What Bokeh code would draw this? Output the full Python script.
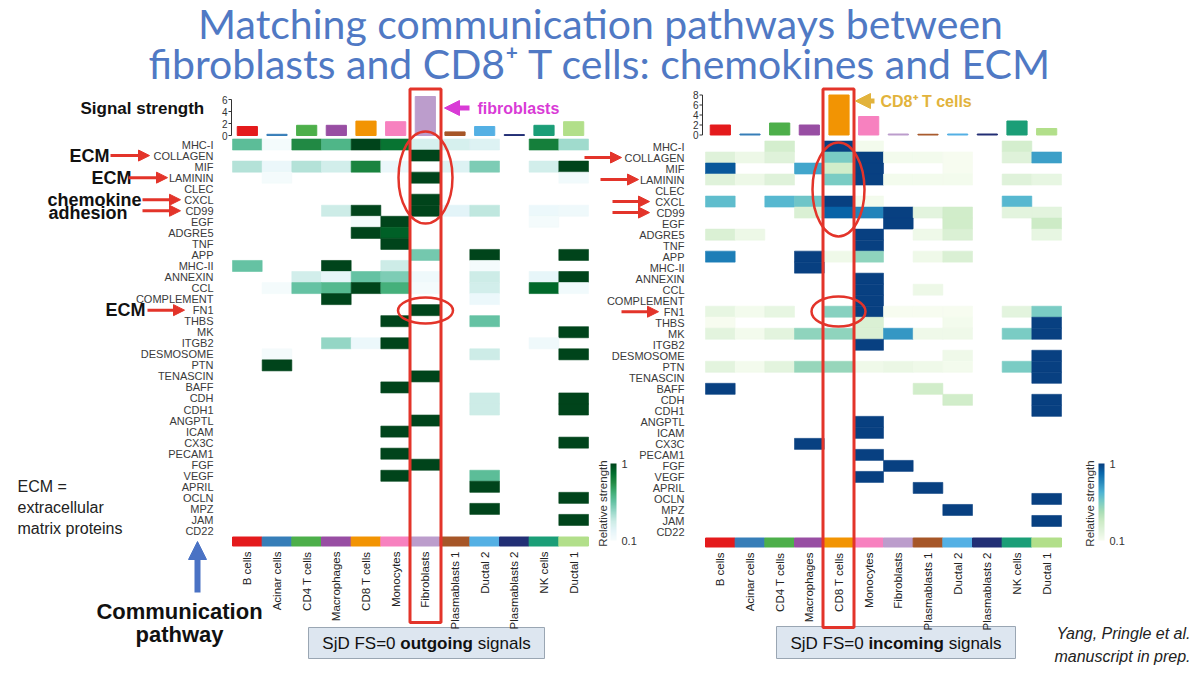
import math
from bokeh.plotting import figure
from bokeh.models import (Range1d, ColumnDataSource, LinearColorMapper, ColorBar,
                          FixedTicker, Arrow, NormalHead)
from bokeh.palettes import BuGn9, GnBu9
from bokeh.embed import file_html
from bokeh.resources import INLINE
from bokeh.core.properties import value

# ---------------- data ----------------
pathways = ["MHC-I", "COLLAGEN", "MIF", "LAMININ", "CLEC", "CXCL", "CD99", "EGF", "ADGRE5",
            "TNF", "APP", "MHC-II", "ANNEXIN", "CCL", "COMPLEMENT", "FN1", "THBS", "MK",
            "ITGB2", "DESMOSOME", "PTN", "TENASCIN", "BAFF", "CDH", "CDH1", "ANGPTL", "ICAM",
            "CX3C", "PECAM1", "FGF", "VEGF", "APRIL", "OCLN", "MPZ", "JAM", "CD22"]
cell_types = ["B cells", "Acinar cells", "CD4 T cells", "Macrophages", "CD8 T cells",
              "Monocytes", "Fibroblasts", "Plasmablasts 1", "Ductal 2", "Plasmablasts 2",
              "NK cells", "Ductal 1"]
cell_colors = ["#E41A1C", "#377EB8", "#4DAF4A", "#984EA3", "#F29403", "#F781BF",
               "#BC9DCC", "#A65628", "#54B0E4", "#222F75", "#1B9E77", "#B2DF8A"]

out_strength = [1.5, 0.2, 1.7, 1.7, 2.4, 2.3, 6.5, 0.6, 1.5, 0.15, 1.7, 2.3]
in_strength = [2.0, 0.2, 2.4, 2.0, 8.0, 3.7, 0.2, 0.15, 0.2, 0.2, 2.8, 1.3]
out_ticks = [0, 2, 4, 6]
in_ticks = [0, 2, 4, 6, 8]
bar_ticks = [0.1, 1]

# relative strength, columns in cell_types order (0 = no signal)
outgoing = [
    [0.58, 0.12, 0.78, 0.62, 1.0, 0.86, 0.28, 0.28, 0.25, 0, 0.82, 0.42],   # MHC-I
    [0, 0, 0, 0, 0, 0, 1.0, 0, 0, 0, 0, 0],                                # COLLAGEN
    [0.38, 0.18, 0.38, 0.3, 0.8, 0.18, 0, 0.25, 0.5, 0, 0.3, 1.0],         # MIF
    [0, 0.12, 0, 0, 0, 0, 1.0, 0, 0, 0, 0, 0.14],                          # LAMININ
    [0, 0, 0, 0, 0, 0, 0, 0, 0, 0, 0, 0],                                  # CLEC
    [0, 0, 0, 0, 0, 0, 1.0, 0, 0, 0, 0, 0],                                # CXCL
    [0, 0, 0, 0.32, 1.0, 0, 1.0, 0.22, 0.35, 0, 0.17, 0.15],              # CD99
    [0, 0, 0, 0, 0.12, 1.0, 0, 0, 0, 0, 0.12, 0],                          # EGF
    [0, 0, 0, 0, 1.0, 0.92, 0, 0, 0, 0, 0, 0],                             # ADGRE5
    [0, 0, 0, 0, 0, 1.0, 0, 0, 0, 0, 0, 0],                                # TNF
    [0, 0, 0, 0, 0, 0, 0.52, 0, 1.0, 0, 0, 1.0],                           # APP
    [0.55, 0, 0, 1.0, 0, 0.32, 0, 0, 0.12, 0, 0, 0],                       # MHC-II
    [0, 0, 0.3, 0.2, 0.55, 0.5, 0.15, 0, 0.32, 0, 0.2, 1.0],               # ANNEXIN
    [0, 0.12, 0.55, 0.6, 1.0, 0.65, 0.12, 0, 0.3, 0, 0.9, 0.14],           # CCL
    [0, 0, 0, 1.0, 0, 0, 0, 0, 0.17, 0, 0, 0],                             # COMPLEMENT
    [0, 0, 0, 0, 0, 0, 1.0, 0, 0, 0, 0, 0],                                # FN1
    [0, 0, 0, 0, 0, 1.0, 0, 0, 0.55, 0, 0, 0],                             # THBS
    [0, 0, 0, 0, 0, 0, 0, 0, 0, 0, 0, 1.0],                                # MK
    [0, 0, 0, 0.45, 0.17, 1.0, 0, 0, 0, 0, 0.15, 0],                       # ITGB2
    [0, 0.12, 0, 0, 0, 0, 0, 0, 0.32, 0, 0, 1.0],                          # DESMOSOME
    [0, 1.0, 0, 0, 0, 0, 0, 0, 0, 0, 0, 0],                                # PTN
    [0, 0, 0, 0, 0, 0, 1.0, 0, 0, 0, 0, 0],                                # TENASCIN
    [0, 0, 0, 0, 0, 1.0, 0, 0, 0, 0, 0, 0],                                # BAFF
    [0, 0, 0, 0, 0, 0, 0, 0, 0.32, 0, 0, 1.0],                             # CDH
    [0, 0, 0, 0, 0, 0, 0, 0, 0.32, 0, 0, 1.0],                             # CDH1
    [0, 0, 0, 0, 0, 0, 1.0, 0, 0, 0, 0, 0],                                # ANGPTL
    [0, 0, 0, 0, 0, 1.0, 0, 0, 0, 0, 0, 0],                                # ICAM
    [0, 0, 0, 0, 0, 0, 0, 0, 0, 0, 0, 1.0],                                # CX3C
    [0, 0, 0, 0, 0, 1.0, 0, 0, 0, 0, 0, 0],                                # PECAM1
    [0, 0, 0, 0, 0, 0, 1.0, 0, 0, 0, 0, 0],                                # FGF
    [0, 0, 0, 0, 0, 1.0, 0, 0, 0.58, 0, 0, 0],                             # VEGF
    [0, 0, 0, 0, 0, 0, 0, 0, 1.0, 0, 0, 0],                                # APRIL
    [0, 0, 0, 0, 0, 0, 0, 0, 0, 0, 0, 1.0],                                # OCLN
    [0, 0, 0, 0, 0, 0, 0, 0, 1.0, 0, 0, 0],                                # MPZ
    [0, 0, 0, 0, 0, 0, 0, 0, 0, 0, 0, 1.0],                                # JAM
    [0, 0, 0, 0, 0, 0, 0, 0, 0, 0, 0, 0],                                  # CD22
]

incoming = [
    [0, 0, 0.28, 0, 1.0, 0.12, 0, 0, 0, 0, 0.28, 0],                       # MHC-I
    [0.22, 0.15, 0.22, 0, 0.55, 1.0, 0.12, 0.12, 0.1, 0, 0.22, 0.72],      # COLLAGEN
    [0.93, 0, 0, 0.7, 0.3, 1.0, 0, 0, 0.1, 0, 0, 0],                       # MIF
    [0.22, 0.15, 0.22, 0, 0.55, 1.0, 0.12, 0.12, 0.12, 0, 0.22, 0.18],     # LAMININ
    [0, 0, 0, 0, 0, 0, 0, 0, 0, 0, 0, 0],                                  # CLEC
    [0.62, 0, 0.64, 0.58, 1.0, 0.12, 0, 0, 0, 0, 0.64, 0],                 # CXCL
    [0, 0, 0, 0.25, 0.9, 0.8, 1.0, 0.2, 0.3, 0, 0.2, 0.2],                 # CD99
    [0, 0, 0, 0, 0, 0, 1.0, 0, 0.3, 0, 0, 0.32],                           # EGF
    [0.25, 0.15, 0, 0, 0, 1.0, 0, 0.14, 0.25, 0, 0, 0.18],                 # ADGRE5
    [0, 0, 0, 0, 0, 1.0, 0, 0, 0, 0, 0, 0],                                # TNF
    [0.82, 0, 0, 1.0, 0.14, 0.5, 0, 0.14, 0.25, 0, 0, 0],                  # APP
    [0, 0, 0, 1.0, 0, 0, 0, 0, 0, 0, 0, 0],                                # MHC-II
    [0, 0, 0, 0, 0, 1.0, 0, 0, 0, 0, 0, 0],                                # ANNEXIN
    [0, 0, 0, 0, 0, 1.0, 0, 0.15, 0, 0, 0, 0],                             # CCL
    [0, 0, 0, 0, 0, 1.0, 0, 0, 0, 0, 0, 0],                                # COMPLEMENT
    [0.18, 0.12, 0.18, 0, 0.52, 1.0, 0.1, 0.1, 0.1, 0, 0.2, 0.55],         # FN1
    [0.1, 0, 0, 0, 0, 0.25, 0, 0, 0.12, 0, 0, 1.0],                        # THBS
    [0.2, 0.12, 0.2, 0.5, 0.5, 0.25, 0.74, 0.14, 0.14, 0, 0.55, 1.0],      # MK
    [0, 0, 0, 0, 0, 1.0, 0, 0, 0, 0, 0, 0],                                # ITGB2
    [0, 0, 0, 0, 0, 0, 0, 0, 0.14, 0, 0, 1.0],                             # DESMOSOME
    [0.2, 0.12, 0.2, 0.48, 0.48, 0.14, 0.16, 0.14, 0.12, 0, 0.55, 1.0],    # PTN
    [0, 0, 0, 0, 0, 0, 0, 0, 0, 0, 0, 1.0],                                # TENASCIN
    [1.0, 0, 0, 0, 0, 0, 0, 0.3, 0, 0, 0, 0],                              # BAFF
    [0, 0, 0, 0, 0, 0, 0, 0, 0.3, 0, 0, 1.0],                              # CDH
    [0, 0, 0, 0, 0, 0, 0, 0, 0, 0, 0, 1.0],                                # CDH1
    [0, 0, 0, 0, 0, 1.0, 0, 0, 0, 0, 0, 0],                                # ANGPTL
    [0, 0, 0, 0, 0, 1.0, 0, 0, 0, 0, 0, 0],                                # ICAM
    [0, 0, 0, 1.0, 0, 0, 0, 0, 0, 0, 0, 0],                                # CX3C
    [0, 0, 0, 0, 0, 1.0, 0, 0, 0, 0, 0, 0],                                # PECAM1
    [0, 0, 0, 0, 0, 0, 1.0, 0, 0, 0, 0, 0],                                # FGF
    [0, 0, 0, 0, 0, 1.0, 0, 0, 0, 0, 0, 0],                                # VEGF
    [0, 0, 0, 0, 0, 0, 0, 1.0, 0, 0, 0, 0],                                # APRIL
    [0, 0, 0, 0, 0, 0, 0, 0, 0, 0, 0, 1.0],                                # OCLN
    [0, 0, 0, 0, 0, 0, 0, 0, 1.0, 0, 0, 0],                                # MPZ
    [0, 0, 0, 0, 0, 0, 0, 0, 0, 0, 0, 1.0],                                # JAM
    [0, 0, 0, 0, 0, 0, 0, 0, 0, 0, 0, 0],                                  # CD22
]

# ---------------- helpers ----------------
def interp(pal, n=256):
    cols = [tuple(int(c[i:i + 2], 16) for i in (1, 3, 5)) for c in pal]
    out = []
    for k in range(n):
        t = k / (n - 1) * (len(cols) - 1)
        i = min(int(t), len(cols) - 2)
        f = t - i
        rgb = [round(cols[i][j] + (cols[i + 1][j] - cols[i][j]) * f) for j in range(3)]
        out.append("#%02x%02x%02x" % tuple(rgb))
    return out

def rng(v0, p0, v1, p1, lo, hi):
    k = (v1 - v0) / (p1 - p0)
    return Range1d(v0 + (lo - p0) * k, v0 + (hi - p0) * k)

W, H = 1196, 670
X0, X1, Y0, Y1 = 0, W, 0, H
FONT = "Liberation Sans"
RED = "#e3342a"

p = figure(width=W, height=H, x_range=Range1d(X0, X1), y_range=Range1d(Y1, Y0),
           output_backend="svg", toolbar_location=None, min_border=0,
           x_axis_type=None, y_axis_type=None)
p.grid.visible = False
p.outline_line_color = None
p.background_fill_color = "white"
p.border_fill_color = "white"

panels = {
    "L": dict(x0=232, x1=588, y0=138.5, y1=536, b0=135, bmax=6, bpx=99, data=outgoing,
              strength=out_strength, ticks=out_ticks, pal=interp(BuGn9[::-1]),
              lab_x=213, axis_x=231, cb_x=610, cbt_x=602),
    "R": dict(x0=705, x1=1061, y0=140.5, y1=537, b0=134.5, bmax=8, bpx=94.5, data=incoming,
              strength=in_strength, ticks=in_ticks, pal=interp(GnBu9[::-1]),
              lab_x=684, axis_x=702, cb_x=1098, cbt_x=1089),
}

# bottom boxes first so that the column labels stay on top
p.quad(left=[308, 776], right=[544, 1015], top=[627, 626], bottom=[658, 658],
       fill_color="#dde6f0", line_color="#9aa6b3", line_width=1)

ncol, nrow = len(cell_types), len(pathways)
for key, P in panels.items():
    p.extra_x_ranges[key + "x"] = rng(0, P["x0"], ncol, P["x1"], X0, X1)
    p.extra_y_ranges[key + "y"] = rng(0, P["y0"], nrow, P["y1"], Y1, Y0)
    p.extra_y_ranges[key + "b"] = rng(0, P["b0"], P["bmax"], P["bpx"], Y1, Y0)
    mapper = LinearColorMapper(palette=P["pal"], low=0.1, high=1)

    xs, ys, vs = [], [], []
    for r, row in enumerate(P["data"]):
        for c, v in enumerate(row):
            if v > 0:
                xs.append(c + 0.5); ys.append(r + 0.5); vs.append(v)
    src = ColumnDataSource(dict(x=xs, y=ys, v=vs))
    p.rect(x="x", y="y", width=1, height=1, source=src, x_range_name=key + "x",
           y_range_name=key + "y", fill_color={"field": "v", "transform": mapper},
           line_color={"field": "v", "transform": mapper}, line_width=0.6)

    # row labels
    p.text(x=[P["lab_x"]] * nrow, y=[r + 0.5 for r in range(nrow)], text=pathways,
           y_range_name=key + "y", text_font=value(FONT), text_font_size="11px",
           text_color="#3a3a3a", text_align="right", text_baseline="middle")

    # signal strength bars
    bsrc = ColumnDataSource(dict(x=[c + 0.5 for c in range(ncol)], top=P["strength"],
                                 color=cell_colors))
    p.vbar(x="x", top="top", bottom=0, width=0.68, color="color", source=bsrc,
           x_range_name=key + "x", y_range_name=key + "b")
    t = P["ticks"]
    p.segment(x0=[P["axis_x"]], x1=[P["axis_x"]], y0=[t[0]], y1=[t[-1]],
              y_range_name=key + "b", line_color="#333", line_width=1)
    p.segment(x0=[P["axis_x"] - 3] * len(t), x1=[P["axis_x"]] * len(t), y0=t, y1=t,
              y_range_name=key + "b", line_color="#333", line_width=1)
    p.text(x=[P["axis_x"] - 4] * len(t), y=t, text=[str(v) for v in t],
           y_range_name=key + "b", text_font=value(FONT), text_font_size="10px",
           text_color="#333", text_align="right", text_baseline="middle")

    # colour strip under columns
    p.vbar(x=[c + 0.5 for c in range(ncol)], top=P["y1"] + 0.5, bottom=P["y1"] + 9.5,
           width=1, color=cell_colors, x_range_name=key + "x")
    # column labels
    p.text(x=[c + 0.5 for c in range(ncol)], y=[P["y1"] + 15] * ncol, text=cell_types,
           x_range_name=key + "x", angle=math.pi / 2, text_font=value(FONT),
           text_font_size="11.5px", text_color="#222", text_align="right",
           text_baseline="middle")

    # colour bar
    cb = ColorBar(color_mapper=mapper, ticker=FixedTicker(ticks=bar_ticks),
                  location=(P["cb_x"] - X0, Y1 - 540), width=6, height=77, padding=0,
                  major_label_text_font_size="11px", major_label_text_color="#333",
                  major_label_text_font=FONT, major_tick_line_color=None,
                  bar_line_color=None, border_line_color=None, background_fill_alpha=0,
                  label_standoff=5)
    p.add_layout(cb, "center")
    p.text(x=[P["cbt_x"]], y=[503], text=["Relative strength"], angle=math.pi / 2,
           text_font=value(FONT), text_font_size="11.5px", text_color="#333",
           text_align="center", text_baseline="middle")

def row_px(name, key):
    P = panels[key]
    h = (P["y1"] - P["y0"]) / nrow
    return P["y0"] + (pathways.index(name) + 0.5) * h

def txt(x, y, s, size, color="#111", align="left", style="normal", font=FONT, baseline="middle"):
    p.text(x=[x], y=[y], text=[s], text_font=value(font), text_font_size=f"{size}px",
           text_color=color, text_align=align, text_baseline=baseline,
           text_font_style=style)

def arrow(xs, ys, xe, ye, color, lw, size):
    p.add_layout(Arrow(end=NormalHead(size=size, fill_color=color, line_color=color),
                       x_start=xs, y_start=ys, x_end=xe, y_end=ye,
                       line_color=color, line_width=lw))

# ---------------- title ----------------
TBLUE = "#5079c4"
txt(600, 23, "Matching communication pathways between", 41, TBLUE, "center", font="Lato")
txt(600, 63, "fibroblasts and CD8\u207a T cells: chemokines and ECM", 41, TBLUE, "center",
    font="Lato")

# ---------------- left annotations ----------------
txt(80, 108, "Signal strength", 17, "#111", style="bold")
txt(69, row_px("COLLAGEN", "L"), "ECM", 18, "#111", style="bold")
arrow(110, row_px("COLLAGEN", "L"), 149, row_px("COLLAGEN", "L"), RED, 3, 11)
txt(91, row_px("LAMININ", "L"), "ECM", 18, "#111", style="bold")
arrow(128, row_px("LAMININ", "L"), 167, row_px("LAMININ", "L"), RED, 3, 11)
txt(47, row_px("CXCL", "L"), "chemokine", 18, "#111", style="bold")
arrow(142, row_px("CXCL", "L"), 180, row_px("CXCL", "L"), RED, 3, 11)
txt(48, row_px("CD99", "L") + 2, "adhesion", 18, "#111", style="bold")
arrow(142, row_px("CD99", "L"), 180, row_px("CD99", "L"), RED, 3, 11)
txt(105, row_px("FN1", "L"), "ECM", 18, "#111", style="bold")
arrow(147, row_px("FN1", "L"), 184, row_px("FN1", "L"), RED, 3, 11)

txt(17, 486, "ECM =", 16, "#222")
txt(17, 507, "extracellular", 16, "#222")
txt(17, 528, "matrix proteins", 16, "#222")
arrow(197, 592, 197, 541, "#4a72c4", 6, 18)
txt(179, 611, "Communication", 22, "#111", "center", "bold")
txt(179, 634, "pathway", 22, "#111", "center", "bold")

# right-panel arrows
for name, xs, xe in [("COLLAGEN", 584, 621), ("LAMININ", 600, 638), ("CXCL", 612, 649),
                     ("CD99", 612, 649), ("FN1", 621, 658)]:
    arrow(xs, row_px(name, "R"), xe, row_px(name, "R"), RED, 3, 11)

# highlight boxes and ellipses
p.quad(left=[409.5, 822.5], right=[440.5, 853.5], top=[88.5, 88.5], bottom=[622, 627],
       fill_color=None, line_color=RED, line_width=3)
p.ellipse(x=[425, 425, 838, 838], y=[177, 310, 189, 311], width=[54, 55, 52, 54],
          height=[92, 26, 94, 30], fill_color=None, line_color=RED, line_width=2.5)

arrow(469, 107.5, 444, 107.5, "#d93bd6", 5, 15)
txt(477, 107.5, "fibroblasts", 16, "#d93bd6", style="bold")
arrow(874, 100.5, 855, 100.5, "#e2b33c", 5, 15)
txt(880, 100.5, "CD8\u207a T cells", 16, "#e2b33c", style="bold")

# ---------------- bottom box texts ----------------
AR = {"S": 667, "j": 222, "D": 722, " ": 278, "F": 611, "=": 584, "0": 556, "s": 500,
      "i": 222, "g": 556, "n": 556, "a": 556, "l": 222}
AB = {"o": 611, "u": 611, "t": 333, "g": 611, "i": 278, "n": 611, "c": 556, "m": 889}

def tw(s, table, size):
    return sum(table.get(ch, 556) for ch in s) * size / 1000

for cx, word in [(426, "outgoing"), (895.5, "incoming")]:
    fs = 17
    a, b, c = "SjD FS=0", word, "signals"
    sp = tw(" ", AR, fs)
    total = tw(a, AR, fs) + sp + tw(b, AB, fs) + sp + tw(c, AR, fs)
    x = cx - total / 2
    txt(x, 643, a, fs, "#111")
    x += tw(a, AR, fs) + sp
    txt(x, 643, b, fs, "#111", style="bold")
    x += tw(b, AB, fs) + sp
    txt(x, 643, c, fs, "#111")

txt(1190, 633, "Yang, Pringle et al.", 16, "#222", "right", "italic")
txt(1190, 656, "manuscript in prep.", 16, "#222", "right", "italic")

open("out.html", "w").write(file_html(p, INLINE))
